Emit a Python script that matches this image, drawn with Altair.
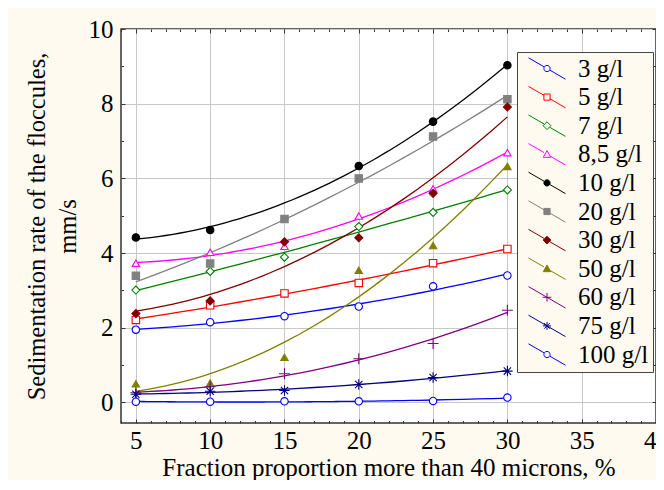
import altair as alt
import pandas as pd

# ---------------- data ----------------
x_vals = [5, 10, 15, 20, 25, 30]
series = ["3 g/l", "5 g/l", "7 g/l", "8,5 g/l", "10 g/l", "20 g/l",
          "30 g/l", "50 g/l", "60 g/l", "75 g/l", "100 g/l"]
v_3 = [1.95, 2.15, 2.31, 2.57, 3.11, 3.40]
v_5 = [2.21, 2.60, 2.92, 3.20, 3.73, 4.11]
v_7 = [3.01, 3.51, 3.89, 4.71, 5.09, 5.69]
v_85 = [3.73, 4.02, 4.18, 4.99, 5.72, 6.69]
v_10 = [4.42, 4.62, None, 6.33, 7.52, 9.03]
v_20 = [3.39, 3.72, 4.91, 6.00, 7.12, 8.12]
v_30 = [2.38, 2.72, 4.30, 4.41, 5.60, 7.91]
v_50 = [0.50, 0.52, 1.21, 3.54, 4.20, 6.32]
v_60 = [0.26, 0.42, 0.77, 1.17, 1.58, 2.47]
v_75 = [0.22, 0.30, 0.32, 0.48, 0.67, 0.84]
v_100 = [0.02, 0.02, 0.03, 0.03, 0.04, 0.13]
values = [v_3, v_5, v_7, v_85, v_10, v_20, v_30, v_50, v_60, v_75, v_100]

colors = ["#0000FF", "#FF0000", "#008000", "#FF00FF", "#000000", "#808080",
          "#800000", "#808000", "#800080", "#000080", "#0000FF"]
kinds = ["circle", "square", "diamond", "triangle", "circle", "square",
         "diamond", "triangle", "plus", "star", "circle"]
filled = [False, False, False, False, True, True, True, True, False, False, False]

rows = []
for s, vals in zip(series, values):
    for xv, yv in zip(x_vals, vals):
        if yv is not None:
            rows.append({"x": xv, "y": yv, "s": s})
df = pd.DataFrame(rows)

FONT = "Liberation Serif"
CREAM = "#FFFAF0"

PLUS = "M-1,0L1,0M0,-1L0,1"
STAR = "M-1,0L1,0M0,-1L0,1M-0.7,-0.7L0.7,0.7M-0.7,0.7L0.7,-0.7"
plot_shape = {"circle": ("circle", 55), "square": ("square", 55),
              "diamond": ("diamond", 65), "triangle": ("triangle-up", 55),
              "plus": (PLUS, 120), "star": (STAR, 110)}

# legend symbol: size 400 -> 10 px per path unit; the path runs wider than the unit box
LEG_SIZE = 400
HX, HY = 1.85, 1.07   # half extent of the diagonal line (path units)


def legend_path(kind):
    ux, uy = 0.865, 0.502
    r = 0.31
    g = 0 if kind in ("plus", "star") else r * 1.1
    f = lambda v: f"{v:.3f}"
    line = f"M{f(-HX)},{f(-HY)}L{f(-g*ux)},{f(-g*uy)}M{f(g*ux)},{f(g*uy)}L{f(HX)},{f(HY)}"
    if kind == "circle":
        m = f"M{f(r)},0A{f(r)},{f(r)} 0 1,1 {f(-r)},0A{f(r)},{f(r)} 0 1,1 {f(r)},0Z"
    elif kind == "square":
        m = f"M{f(-r)},{f(-r)}L{f(r)},{f(-r)}L{f(r)},{f(r)}L{f(-r)},{f(r)}Z"
    elif kind == "diamond":
        q = r * 1.25
        m = f"M0,{f(-q)}L{f(q)},0L0,{f(q)}L{f(-q)},0Z"
    elif kind == "triangle":
        q = r * 1.2
        m = f"M0,{f(-q)}L{f(q)},{f(q*0.8)}L{f(-q)},{f(q*0.8)}Z"
    elif kind == "plus":
        q = r * 1.4
        m = f"M{f(-q)},0L{f(q)},0M0,{f(-q)}L0,{f(q)}"
    else:
        q = r * 1.3
        d = q * 0.7
        m = (f"M{f(-q)},0L{f(q)},0M0,{f(-q)}L0,{f(q)}"
             f"M{f(-d)},{f(-d)}L{f(d)},{f(d)}M{f(-d)},{f(d)}L{f(d)},{f(-d)}")
    return line + m


legend_paths = [legend_path(k) for k in kinds]
legend_fills = [c if fl else "transparent" for c, fl in zip(colors, filled)]

xscale = alt.Scale(domain=[4, 40], nice=False, zero=False)
yscale = alt.Scale(domain=[-0.55, 10], nice=False, zero=False)

x_axis = alt.Axis(values=[5, 10, 15, 20, 25, 30, 35, 40], grid=True, gridColor="#c8c8c8",
                  gridWidth=1, ticks=False, domain=False, labelFont=FONT, labelFontSize=25,
                  labelColor="black", labelPadding=5, title="Fraction proportion more than 40 microns, %",
                  titleFont=FONT, titleFontSize=25, titleFontWeight="normal", titleColor="black",
                  titlePadding=2, labelFlush=False)
y_axis = alt.Axis(values=[0, 2, 4, 6, 8, 10], grid=True, gridColor="#c8c8c8", gridWidth=1,
                  ticks=False, domain=False, labelFont=FONT, labelFontSize=25, labelColor="black",
                  labelPadding=8, title=["Sedimentation rate of the floccules,", "mm/s"],
                  titleFont=FONT, titleFontSize=24.5, titleFontWeight="normal", titleColor="black",
                  titlePadding=8, titleLineHeight=31, labelFlush=False)

base = alt.Chart(df)
X = alt.X("x:Q", scale=xscale, axis=x_axis)
Y = alt.Y("y:Q", scale=yscale, axis=y_axis)

line_layers = []
point_layers = []
for s, c, k, fl in zip(series, colors, kinds, filled):
    line_layers.append(
        base.transform_filter(alt.datum.s == s)
        .transform_regression("x", "y", method="poly", order=2)
        .mark_line(color=c, strokeWidth=1.3)
        .encode(x=X, y=Y)
    )
    shp, sz = plot_shape[k]
    if k in ("plus", "star"):
        fc = "transparent"
    else:
        fc = c if fl else "white"
    point_layers.append(
        base.transform_filter(alt.datum.s == s)
        .mark_point(shape=shp, size=sz, filled=True, fill=fc,
                    stroke=c, strokeWidth=1.1, opacity=1)
        .encode(x=X, y=Y)
    )

legend = alt.Legend(title=None, orient="none", legendX=396, legendY=23, fillColor=CREAM,
                    strokeColor="#444", padding=4, labelFont=FONT, labelFontSize=25,
                    labelColor="black", symbolStrokeWidth=1, rowPadding=1.6, labelOffset=18.5,
                    symbolOffset=13.5, symbolSize=LEG_SIZE, symbolOpacity=1)
legend_layer = base.mark_point(filled=True, opacity=0, size=LEG_SIZE).encode(
    x=X, y=Y,
    stroke=alt.Stroke("s:N", scale=alt.Scale(domain=series, range=colors), legend=legend),
    fill=alt.Fill("s:N", scale=alt.Scale(domain=series, range=legend_fills), legend=legend),
    shape=alt.Shape("s:N", scale=alt.Scale(domain=series, range=legend_paths), legend=legend),
)

inner = alt.layer(*line_layers, *point_layers, legend_layer)


def tick_layer(orient_x, orient_y, xv, yv, size):
    return alt.Chart(df).mark_point(opacity=0).encode(
        x=alt.X("x:Q", scale=xscale, axis=alt.Axis(orient=orient_x, values=xv, labels=False, domain=False,
                                                   grid=False, ticks=True, tickSize=size, offset=-size,
                                                   tickColor="#333", tickWidth=1, title=None)),
        y=alt.Y("y:Q", scale=yscale, axis=alt.Axis(orient=orient_y, values=yv, labels=False, domain=False,
                                                   grid=False, ticks=True, tickSize=size, offset=-size,
                                                   tickColor="#333", tickWidth=1, title=None)),
    )


major_x = [5, 10, 15, 20, 25, 30, 35, 40]
minor_x = list(range(4, 41))
major_y = [0, 2, 4, 6, 8, 10]
minor_y = list(range(0, 11))

chart = alt.layer(
    inner,
    tick_layer("bottom", "left", major_x, major_y, 4),
    tick_layer("bottom", "left", minor_x, minor_y, 2.5),
    tick_layer("top", "right", major_x, major_y, 4),
    tick_layer("top", "right", minor_x, minor_y, 2.5),
).resolve_scale(x="independent", y="independent").properties(
    width=535, height=394,
    autosize=alt.AutoSizeParams(type="none"),
    padding={"left": 113, "top": 21, "right": 0, "bottom": 57},
    background=CREAM,
).configure_view(fill="white", stroke="#333", strokeWidth=1.5)

chart.save("out.html", embed_options={"renderer": "svg", "actions": False})
